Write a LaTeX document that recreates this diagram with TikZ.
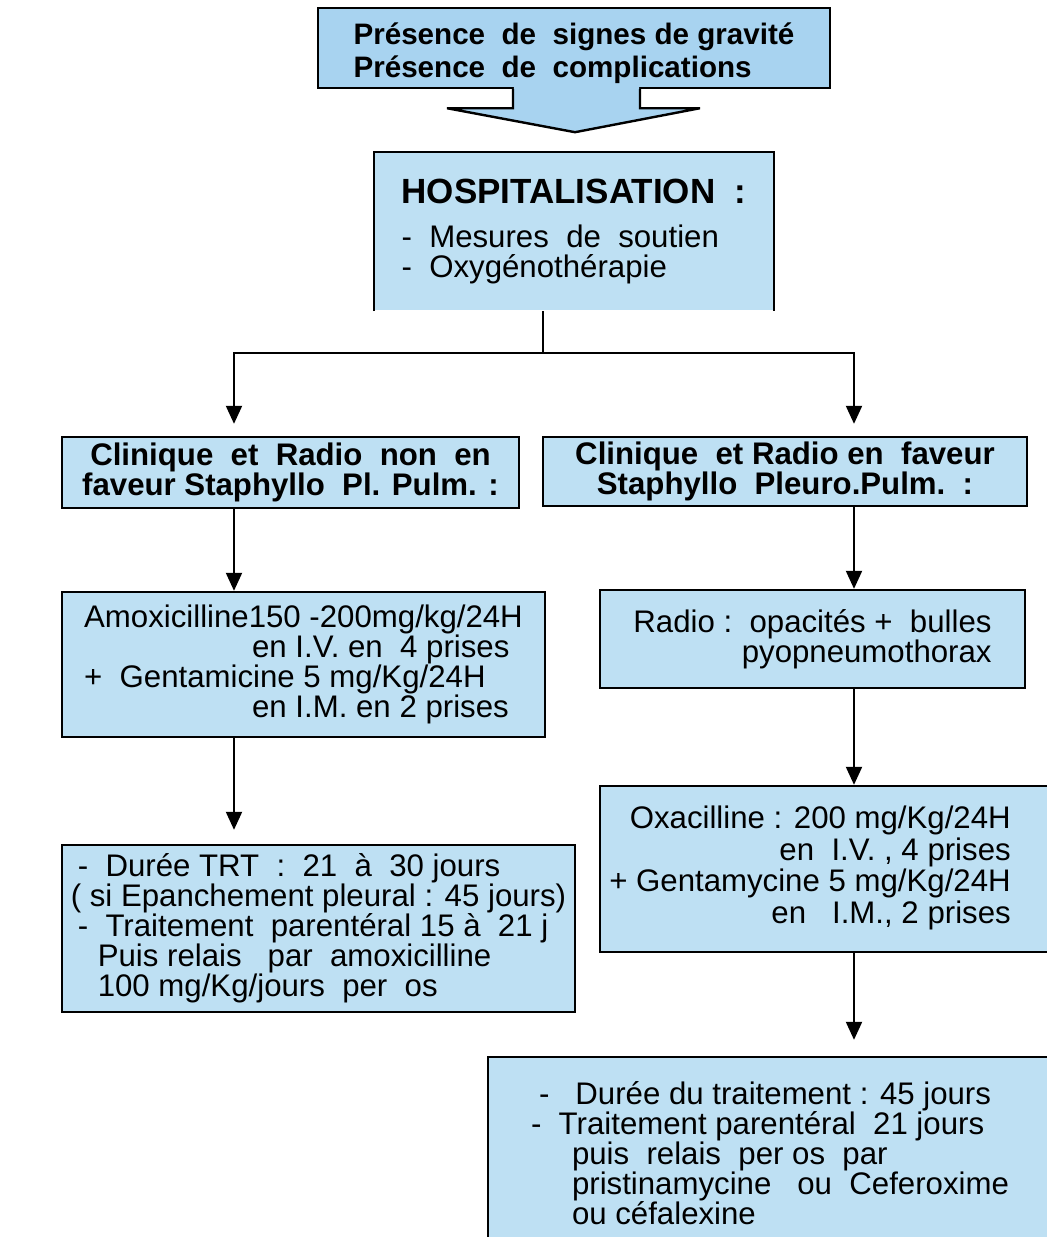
\documentclass[tikz,border=0pt]{standalone}
\usepackage{fontspec}
\setmainfont{Liberation Sans}
\usetikzlibrary{arrows.meta,calc}
\definecolor{boxblue}{RGB}{190,224,243}
\definecolor{topblue}{RGB}{168,211,240}
\tikzset{box/.style={draw=black,line width=1.2pt,fill=boxblue,inner sep=0pt,
   font=\fontsize{15.6}{15}\selectfont},
 head/.style={box,font=\bfseries\fontsize{15.6}{15}\selectfont},
 arr/.style={line width=1pt,-{Triangle[width=8pt,length=9pt]}},
 }

\begin{document}
\begin{tikzpicture}[x=0.5pt,y=-0.5pt]
  \useasboundingbox (0,0) rectangle (1047,1237);
  \clip (0,0) rectangle (1047,1237);
  % top box with its arrow
  \node[head,fill=topblue,minimum width=256pt,minimum height=40pt,align=left,
        font=\bfseries\fontsize{14.8}{16.5}\selectfont] (sig) at (574,48)
    {\rule{0pt}{16.5pt}Présence\ \ de\ \ signes de gravité\\Présence\ \ de\ \ complications};
  \fill[topblue] ($(sig.south)+(-60,-2)$) -- ($(sig.south)+(-61,19)$) -- ($(sig.south)+(-127,19)$)
    -- ($(sig.south)+(1,43)$) -- ($(sig.south)+(126,19)$) -- ($(sig.south)+(66,19)$)
    -- ($(sig.south)+(65,-2)$) -- cycle;
  \draw[line width=1.2pt] ($(sig.south)+(-61,0)$) -- ($(sig.south)+(-61,19)$) -- ($(sig.south)+(-127,19)$)
    -- ($(sig.south)+(1,43)$) -- ($(sig.south)+(126,19)$) -- ($(sig.south)+(66,19)$)
    -- ($(sig.south)+(66,0)$);
  % hospitalisation (open at the bottom)
  \node[box,draw=none,minimum width=199pt,minimum height=78.5pt,align=left] (hosp) at (574,231.5)
    {{\bfseries\fontsize{17.5}{19}\selectfont HOSPITALISATION\ \ :}\\[7pt]
     -\ \ Mesures\ \ de\ \ soutien\\-\ \ Oxygénothérapie};
  \draw[line width=1.2pt] (hosp.south west) -- (hosp.north west) -- (hosp.north east) -- (hosp.south east);
  % second row
  \node[head,minimum width=228.5pt,minimum height=35.5pt,align=center] (clinL) at (290.5,472.5)
    {Clinique\ \ et\ \ Radio\ \ non\ \ en\\faveur Staphyllo\ \ Pl. Pulm. :};
  \node[head,minimum width=242pt,minimum height=34.5pt,align=center] (clinR) at (785,471.5)
    {Clinique\ \ et Radio en\ \ faveur\\Staphyllo\ \ Pleuro.Pulm.\ \ :};
  % third row
  \node[box,minimum width=241.5pt,minimum height=72.5pt,align=left] (amox) at (303.5,664.5)
    {Amoxicilline150 -200mg/kg/24H\\\hspace*{84pt}en I.V. en\ \ 4 prises\\
     +\ \ Gentamicine 5 mg/Kg/24H\\\hspace*{84pt}en I.M. en 2 prises};
  \node[box,minimum width=212.5pt,minimum height=49pt,align=right] (radio) at (812.5,639)
    {Radio :\ \ opacités +\ \ bulles\\pyopneumothorax};
  % fourth row
  \node[box,minimum width=256.5pt,minimum height=83.5pt,align=left] (dureeL) at (318.5,928.5)
    {\hspace*{3.5pt}-\ \ Durée TRT\ \ :\ \ 21\ \ à\ \ 30 jours\\
     ( si Epanchement pleural : 45 jours)\\
     \hspace*{3.5pt}-\ \ Traitement\ \ parentéral 15 à\ \ 21 j\\
     \hspace*{13.5pt}Puis relais\ \ \ par\ \ amoxicilline\\
     \hspace*{13.5pt}100 mg/Kg/jours\ \ per\ \ os};
  \node[box,minimum width=226pt,minimum height=83pt] (oxa) at (826,869)
    {\begin{tabular}{@{}r@{}}
     Oxacilline : 200 mg/Kg/24H\\
     en\ \ I.V. , 4 prises\\
     + Gentamycine 5 mg/Kg/24H\\
     en\ \ \ I.M., 2 prises
     \end{tabular}\hspace*{16pt}};
  % last box
  \node[box,minimum width=282pt,minimum height=96.5pt,align=left] (dureeR) at (770,1153.5)
    {\hspace*{4pt}-\ \ \ Durée du traitement : 45 jours\\
     -\ \ Traitement parentéral\ \ 21 jours\\
     \hspace*{20.5pt}puis\ \ relais\ \ per os\ \ par\\
     \hspace*{20.5pt}pristinamycine\ \ \ ou\ \ Ceferoxime\\
     \hspace*{20.5pt}ou céfalexine};
  % connectors
  \coordinate (colL) at (234,0);
  \coordinate (colR) at (854,0);
  \coordinate (split) at (543,353);
  \draw[line width=1pt] (hosp.south -| split) -- (split);
  \draw[arr,shorten >=6pt] (split) -| (clinL.north -| colL);
  \draw[arr,shorten >=6pt] (split) -| (clinR.north -| colR);
  \draw[arr] (clinL.south -| colL) -- (amox.north -| colL);
  \draw[arr] (clinR.south -| colR) -- (radio.north -| colR);
  \draw[arr,shorten >=7pt] (amox.south -| colL) -- (dureeL.north -| colL);
  \draw[arr] (radio.south -| colR) -- (oxa.north -| colR);
  \draw[arr,shorten >=8pt] (oxa.south -| colR) -- (dureeR.north -| colR);
\end{tikzpicture}
\end{document}
